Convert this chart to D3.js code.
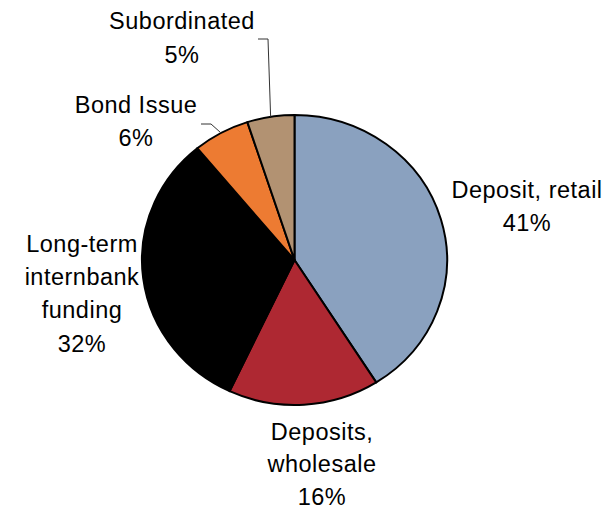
<!DOCTYPE html>
<html>
<head>
<meta charset="utf-8">
<script src="https://cdn.jsdelivr.net/npm/d3@7/dist/d3.min.js"></script>
<style>
  html, body { margin: 0; padding: 0; background: #fff; }
  svg { display: block; }
  text { font-family: "Liberation Sans", Arial, sans-serif; font-size: 23.5px; letter-spacing: 0.5px; fill: #000; }
</style>
</head>
<body>
<svg id="chart" width="608" height="511"></svg>
<script>
// Funding structure, share of total (%)
const categories = ["Deposit, retail", "Deposits, wholesale", "Long-term internbank funding", "Bond Issue", "Subordinated"];
const values = [41, 16, 32, 6, 5];
const labelLines = [
  ["Deposit, retail"],
  ["Deposits,", "wholesale"],
  ["Long-term", "internbank", "funding"],
  ["Bond Issue"],
  ["Subordinated"]
];
const colors = ["#8aa1bf", "#ae2832", "#000000", "#ed7b32", "#b29272"];

// Layout
const W = 608, H = 511;
const cx = 294.5, cy = 260;
const R = 145;          // vertical radius
const sx = 1.052;       // horizontal stretch of the pie
const lineH = 33.3;

// Label anchor (centre x, baseline of first line) and optional leader elbow
const labelPos = [
  { x: 527, y: 198 },
  { x: 322, y: 439.5, lineH: 32.8 },
  { x: 82,  y: 251.7 },
  { x: 136, y: 113, leader: [[201, 124], [211, 124]] },
  { x: 182, y: 29.3, leader: [[258, 39], [268, 39]] }
];

const svg = d3.select("#chart");

const pie = d3.pie().sort(null).value(d => d)
  .startAngle(0).endAngle(2 * Math.PI);
const arcs = pie(values);
const arc = d3.arc().innerRadius(0).outerRadius(R);

const g = svg.append("g")
  .attr("transform", `translate(${cx},${cy}) scale(${sx},1)`);

g.selectAll("path.slice")
  .data(arcs)
  .join("path")
  .attr("class", "slice")
  .attr("d", arc)
  .attr("fill", (d, i) => colors[i])
  .attr("stroke", "#000")
  .attr("stroke-width", 2)
  .attr("stroke-linejoin", "round")
  .attr("vector-effect", "non-scaling-stroke");

// Leader lines from label to the slice edge at its mid angle
arcs.forEach((a, i) => {
  const lp = labelPos[i];
  if (!lp.leader) return;
  const mid = (a.startAngle + a.endAngle) / 2;
  const end = [cx + sx * R * Math.sin(mid), cy - R * Math.cos(mid)];
  const pts = lp.leader.concat([end]);
  svg.append("path")
    .attr("d", d3.line()(pts))
    .attr("fill", "none")
    .attr("stroke", "#333")
    .attr("stroke-width", 1);
});

// Data labels: category name lines then percentage
const fmt = d3.format(".0f");
arcs.forEach((a, i) => {
  const lp = labelPos[i];
  const lh = lp.lineH || lineH;
  const lines = labelLines[i].concat([fmt(a.data) + "%"]);
  const t = svg.append("text")
    .attr("text-anchor", "middle")
    .attr("x", lp.x)
    .attr("y", lp.y);
  lines.forEach((s, k) => {
    t.append("tspan")
      .attr("x", lp.x)
      .attr("dy", k === 0 ? 0 : lh)
      .text(s);
  });
});
</script>
</body>
</html>
